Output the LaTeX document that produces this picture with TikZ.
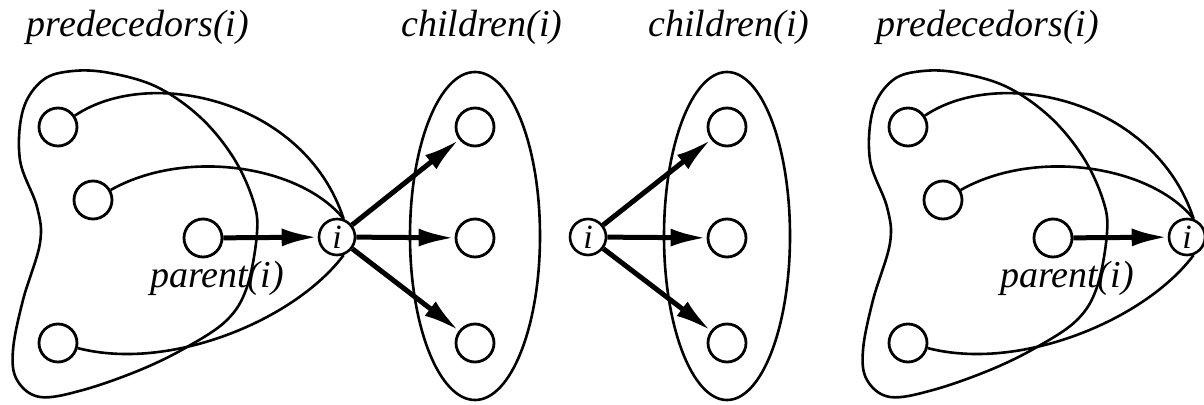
\documentclass[tikz,border=0pt]{standalone}
\usepackage{fontspec}
\setmainfont{Liberation Serif}
\usepackage{tikz}
\usetikzlibrary{arrows.meta,calc}

\tikzset{
  vtx/.style={draw,circle,line width=1.4pt,minimum size=19pt,inner sep=0pt},
  inode/.style={draw,circle,line width=1.3pt,minimum size=18pt,inner sep=0pt,font=\fontsize{17}{20}\selectfont\itshape},
  lbl/.style={anchor=base,inner sep=0pt,font=\fontsize{19}{22}\selectfont\itshape},
  thinline/.style={line width=1.3pt},
  arr/.style={->,line width=2.5pt}
}

\begin{document}
\begin{tikzpicture}[x=0.5pt,y=0.5pt,>={Latex[length=18pt,width=9pt]}]
\useasboundingbox (0,0) rectangle (1204,-405);
% predecessor panels (left and right are the same)
\foreach \dx/\s in {0/a,850/b}{
\begin{scope}[shift={(\dx,0)}]
\node[lbl](pred\s) at (138,-37){predecedors(i)};
\draw[thinline] plot[smooth cycle,tension=0.6] coordinates {(73,-71) (110,-73) (157,-87) (200,-117) (233,-157) (253,-200) (257,-233) (247,-287) (227,-320) (187,-347) (140,-370) (83,-390) (40,-397) (17,-380) (13,-350) (23,-300) (40,-243) (37,-207) (20,-160) (23,-110) (43,-80)};
\node[vtx](\s1) at (58,-127){};
\node[vtx](\s2) at (93,-200){};
\node[vtx](\s3) at (58,-343){};
\node[vtx](par\s) at (203,-238){};
\node[inode](i\s) at (337,-237){i};
\node[lbl](parlbl\s) at (217,-288){parent(i)};
\draw[thinline](\s1) .. controls (150,-65) and (305,-100) .. (i\s.70);
\draw[thinline](\s2) .. controls (185,-148) and (300,-165) .. (i\s.70);
\draw[thinline](\s3) .. controls (170,-372) and (295,-320) .. (i\s.-70);
\draw[arr](par\s)--(i\s);
\end{scope}}
% children panels
\node[lbl](childa) at (482,-37){children(i)};
\draw[thinline] (475,-236) ellipse [x radius=65,y radius=164];
\node[vtx](ca1) at (475,-127){};
\node[vtx](ca2) at (475,-238){};
\node[vtx](ca3) at (475,-343){};
\foreach \k in {1,2,3}{\draw[arr](ia)--(ca\k);}
\node[lbl](childb) at (729,-37){children(i)};
\draw[thinline] (727,-236) ellipse [x radius=63,y radius=164];
\node[inode](ic) at (588,-237){i};
\node[vtx](cb1) at (727,-127){};
\node[vtx](cb2) at (727,-238){};
\node[vtx](cb3) at (727,-343){};
\foreach \k in {1,2,3}{\draw[arr](ic)--(cb\k);}
\end{tikzpicture}
\end{document}
